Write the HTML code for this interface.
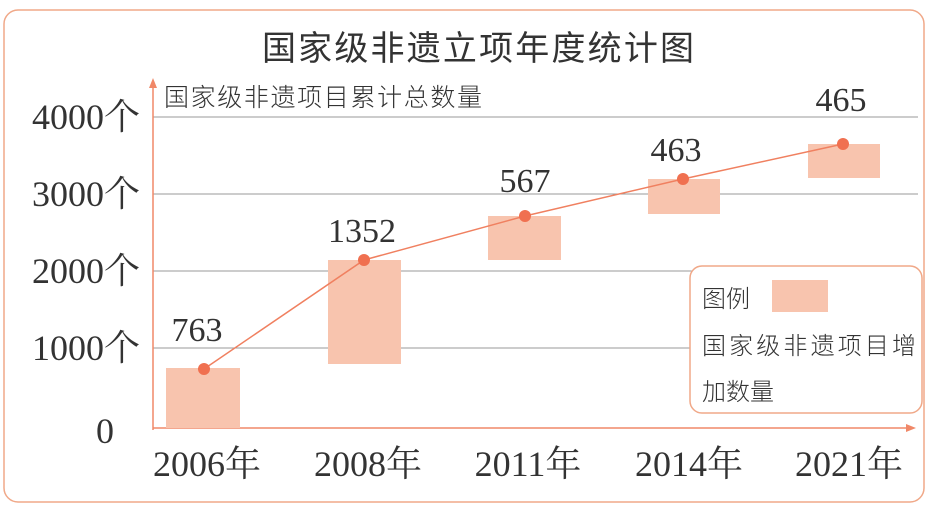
<!DOCTYPE html>
<html><head><meta charset="utf-8"><style>
body{margin:0;background:#fff;}
svg text{font-family:"Liberation Serif","Noto Serif CJK SC",serif;fill:#333;}
.c{font-family:"Noto Sans CJK SC",sans-serif;font-weight:300;}
</style></head><body>
<svg width="934" height="508" viewBox="0 0 934 508" xmlns="http://www.w3.org/2000/svg">
<rect x="0" y="0" width="934" height="508" fill="#fff"/>
<rect x="4" y="10" width="920" height="492" rx="14" fill="none" stroke="#f0a888" stroke-width="1.5"/>
<text x="478" y="60" text-anchor="middle" font-size="34" style="font-family:'Noto Sans CJK SC',sans-serif" fill="#222" textLength="432">国家级非遗立项年度统计图</text>
<g stroke="#999" stroke-width="1">
<line x1="153" y1="117" x2="918" y2="117"/>
<line x1="153" y1="194" x2="918" y2="194"/>
<line x1="153" y1="271" x2="918" y2="271"/>
<line x1="153" y1="348" x2="918" y2="348"/>
</g>
<line x1="153" y1="430" x2="153" y2="84" stroke="#f08868" stroke-width="1.5"/>
<polygon points="153,78 149,88 157,88" fill="#f08868"/>
<line x1="153" y1="428" x2="910" y2="428" stroke="#f08868" stroke-width="1.5"/>
<polygon points="916,428 906,424 906,432" fill="#f08868"/>
<text x="164" y="106" font-size="25" class="c" fill="#555" textLength="318">国家级非遗项目累计总数量</text>
<g font-size="36" text-anchor="end">
<text x="140" y="129">4000个</text>
<text x="140" y="206">3000个</text>
<text x="140" y="283">2000个</text>
<text x="140" y="360">1000个</text>
<text x="114" y="443">0</text>
</g>
<g fill="#f8c4ae">
<rect x="166" y="368" width="74" height="60"/>
<rect x="328" y="260" width="73" height="104"/>
<rect x="488" y="216" width="73" height="44"/>
<rect x="648" y="179" width="72" height="35"/>
<rect x="808" y="144" width="72" height="34"/>
</g>
<polyline points="204,369 364,260 525,216 683,179 843,144" fill="none" stroke="#f08060" stroke-width="1.5"/>
<g fill="#f07050">
<circle cx="204" cy="369" r="6"/><circle cx="364" cy="260" r="6"/><circle cx="525" cy="216" r="6"/><circle cx="683" cy="179" r="6"/><circle cx="843" cy="144" r="6"/>
</g>
<g font-size="34" text-anchor="middle">
<text x="197" y="341">763</text>
<text x="362" y="242">1352</text>
<text x="525" y="192">567</text>
<text x="676" y="161">463</text>
<text x="841" y="111">465</text>
</g>
<g font-size="36" text-anchor="middle">
<text x="207" y="476">2006年</text>
<text x="368" y="476">2008年</text>
<text x="528" y="476">2011年</text>
<text x="689" y="476">2014年</text>
<text x="849" y="476">2021年</text>
</g>
<rect x="690" y="266" width="232" height="147" rx="12" fill="#fff" stroke="#f0a888" stroke-width="1.5"/>
<text x="702" y="307" font-size="24" class="c" fill="#444">图例</text>
<rect x="772" y="280" width="56" height="32" fill="#f8c4ae"/>
<text x="702" y="354" font-size="24" class="c" fill="#444" textLength="214">国家级非遗项目增</text>
<text x="702" y="400" font-size="24" class="c" fill="#444">加数量</text>
</svg>
</body></html>
